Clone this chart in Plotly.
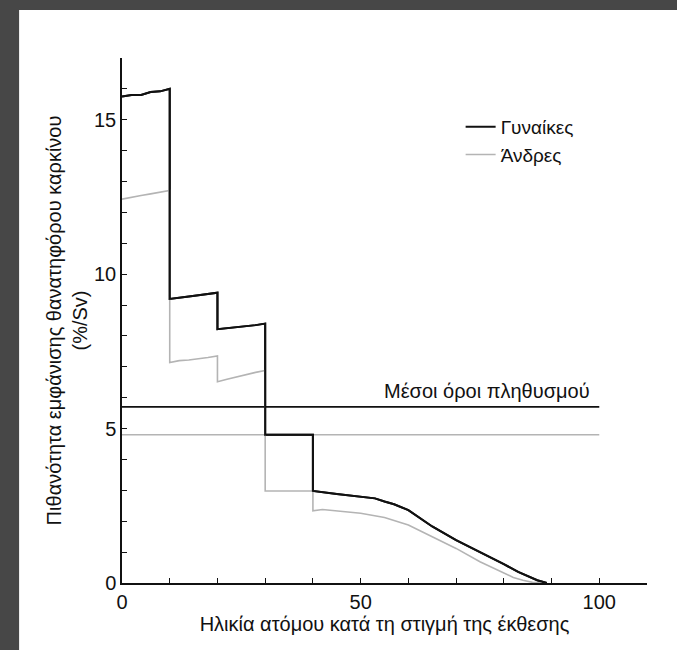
import plotly.graph_objects as go

# ---- data ----
female_age = [0, 2, 4, 6, 8, 10, 10, 12, 14, 16, 18, 20, 20, 22, 24, 26, 28, 30,
              30, 40, 40, 45, 50, 53, 55, 57, 60, 63, 65, 70, 75, 80, 83, 85, 87, 89]
female_risk = [15.75, 15.8, 15.8, 15.9, 15.92, 16.0, 9.2, 9.25, 9.28, 9.32, 9.36, 9.4,
               8.22, 8.25, 8.27, 8.3, 8.35, 8.4, 4.8, 4.8, 2.98, 2.88, 2.8, 2.74, 2.64,
               2.55, 2.36, 2.05, 1.83, 1.39, 1.01, 0.61, 0.36, 0.22, 0.09, 0.0]

male_age = [0, 2, 4, 6, 8, 10, 10, 12, 14, 16, 18, 20, 20, 22, 24, 26, 28, 30,
            30, 40, 40, 42, 45, 50, 55, 60, 65, 70, 75, 80, 82, 84, 86, 88]
male_risk = [12.43, 12.5, 12.55, 12.6, 12.65, 12.71, 7.14, 7.2, 7.22, 7.25, 7.3, 7.35,
             6.52, 6.6, 6.68, 6.75, 6.82, 6.88, 2.98, 2.98, 2.34, 2.38, 2.33, 2.26,
             2.12, 1.88, 1.5, 1.12, 0.69, 0.31, 0.18, 0.09, 0.02, 0.0]

mean_age = [0, 100]
female_mean = [5.7, 5.7]
male_mean = [4.8, 4.8]

series_names = ["Γυναίκες", "Άνδρες"]
mean_label = "Μέσοι όροι πληθυσμού"
x_title = "Ηλικία ατόμου κατά τη στιγμή της έκθεσης"
y_title = "Πιθανότητα εμφάνισης θανατηφόρου καρκίνου<br>(%/Sv)"
x_ticks = [0, 50, 100]
y_ticks = [0, 5, 10, 15]

FONT = "Liberation Sans, Arial, sans-serif"
BLACK = "#111111"
GRAY = "#b4b4b4"

fig = go.Figure()

# population means
fig.add_trace(go.Scatter(x=mean_age, y=male_mean, mode="lines",
                         line=dict(color=GRAY, width=1.6), showlegend=False, hoverinfo="skip"))
fig.add_trace(go.Scatter(x=mean_age, y=female_mean, mode="lines",
                         line=dict(color=BLACK, width=1.8), showlegend=False, hoverinfo="skip"))

# series
fig.add_trace(go.Scatter(x=female_age, y=female_risk, mode="lines", name=series_names[0],
                         line=dict(color=BLACK, width=2)))
fig.add_trace(go.Scatter(x=male_age, y=male_risk, mode="lines", name=series_names[1],
                         line=dict(color=GRAY, width=1.6)))
# redraw female on top of male (without legend)
fig.add_trace(go.Scatter(x=female_age, y=female_risk, mode="lines", showlegend=False,
                         line=dict(color=BLACK, width=2), hoverinfo="skip"))

# white panel over dark border
fig.add_shape(type="rect", xref="paper", yref="paper",
              x0=-0.196, x1=1.07, y0=-0.14, y1=1.0914,
              fillcolor="white", line=dict(width=0), layer="below")

fig.add_annotation(text=mean_label, x=98.5, y=5.8, xref="x", yref="y",
                   xanchor="right", yanchor="bottom", showarrow=False,
                   font=dict(family=FONT, size=20, color=BLACK))

fig.add_annotation(text=y_title, xref="paper", yref="paper", x=-0.105, y=0.5,
                   textangle=-90, showarrow=False, xanchor="center", yanchor="middle",
                   font=dict(family=FONT, size=20, color=BLACK))

fig.update_layout(
    width=677, height=650,
    margin=dict(l=122, r=30, t=58, b=67),
    paper_bgcolor="#474747",
    plot_bgcolor="white",
    font=dict(family=FONT, color=BLACK),
    legend=dict(x=0.645, y=0.905, xanchor="left", yanchor="top",
                bgcolor="rgba(0,0,0,0)", font=dict(family=FONT, size=19, color=BLACK),
                itemwidth=30, tracegroupgap=0),
    xaxis=dict(range=[0, 110], showgrid=False, zeroline=False, showline=True,
               linecolor=BLACK, linewidth=1.5, ticks="inside", ticklen=5,
               tickcolor=BLACK, tickvals=x_ticks, tickfont=dict(size=20, family=FONT),
               minor=dict(dtick=10, ticks="inside", ticklen=5, tickcolor=BLACK, showgrid=False),
               title=dict(text=x_title, font=dict(size=20, family=FONT), standoff=2)),
    yaxis=dict(range=[0, 17], showgrid=False, zeroline=False, showline=True,
               linecolor=BLACK, linewidth=1.5, ticks="inside", ticklen=5,
               tickcolor=BLACK, tickvals=y_ticks, tickfont=dict(size=20, family=FONT),
               minor=dict(dtick=1, ticks="inside", ticklen=5, tickcolor=BLACK, showgrid=False)),
)

fig.write_html("out.html",
               config={"displayModeBar": False},
               post_script="document.body.style.margin='0px';"
                           "document.body.style.background='#474747';")
